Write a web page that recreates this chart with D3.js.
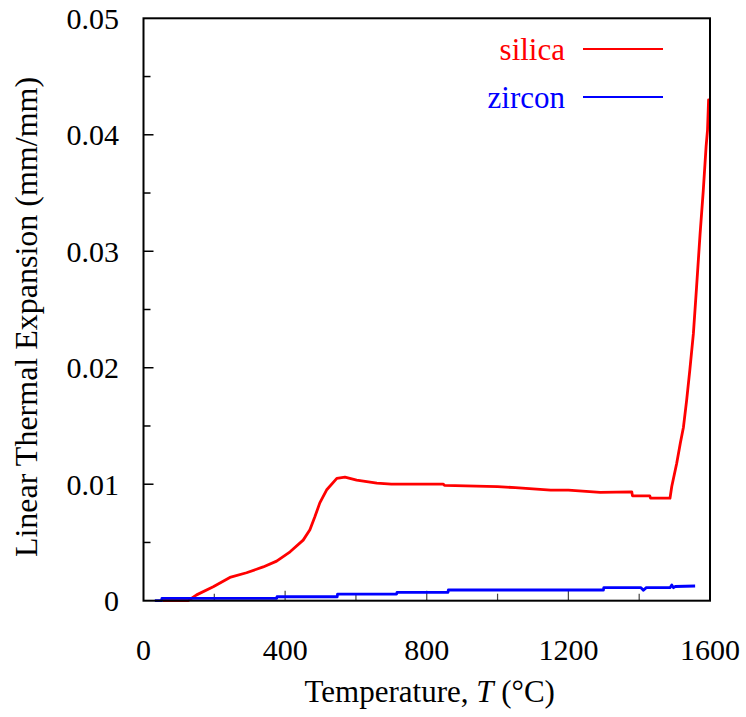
<!DOCTYPE html>
<html><head><meta charset="utf-8">
<script src="https://cdn.jsdelivr.net/npm/d3@7"></script>
<style>
html,body{margin:0;padding:0;background:#fff;}
text{font-family:"Liberation Serif","Times New Roman",serif;}
</style></head>
<body>
<svg id="c" width="746" height="717"></svg>
<script>
// Data (temperature °C, linear thermal expansion mm/mm)
const silicaT = [55,126,150,197,244,291,338,376,414,451,470,484,498,517,546,569,602,659,700,847,850,1000,1050,1100,1150,1200,1290,1379,1381,1430,1432,1487,1492,1506,1516,1525,1534,1543,1553,1562,1572,1581,1589,1593,1596,1598];
const silicaV = [0,0,0.0005,0.0012,0.002,0.0024,0.0029,0.0034,0.0042,0.0052,0.0061,0.0072,0.0084,0.0095,0.0105,0.0106,0.01036,0.0101,0.0100,0.0100,0.0099,0.0098,0.0097,0.0096,0.0095,0.0095,0.0093,0.00935,0.0090,0.0090,0.0088,0.0088,0.0098,0.0118,0.0135,0.0149,0.0172,0.0198,0.0229,0.0269,0.0315,0.0352,0.039,0.0404,0.043,0.043];
const zirconT = [32,51,52,376,377,547,548,715,716,860,861,1299,1300,1405,1412,1420,1487,1492,1497,1502,1558];
const zirconV = [0,0,0.0002,0.0002,0.00034,0.00034,0.00057,0.00057,0.00072,0.00072,0.00092,0.00092,0.00112,0.00112,0.0009,0.00112,0.00112,0.00135,0.00112,0.00122,0.00126];
const xTicks = [0,400,800,1200,1600];
const yTicks = [0,0.01,0.02,0.03,0.04,0.05];
const xMinor = [200,600,1000,1400];
const yMinor = [0.005,0.015,0.025,0.035,0.045];
const seriesNames = ["silica","zircon"];
const seriesColors = ["#ff0000","#0000ff"];

const svg = d3.select("#c");
const L=143.5, R=710, T=18.3, B=600.7;
const x = d3.scaleLinear().domain([0,1600]).range([L,R]);
const y = d3.scaleLinear().domain([0,0.05]).range([B,T]);

// ticks (inward)
const g = svg.append("g");
g.selectAll(".xt").data(xTicks.slice(1,-1)).enter().append("line")
 .attr("x1",d=>x(d)).attr("x2",d=>x(d)).attr("y1",B).attr("y2",B-10)
 .attr("stroke","#444").attr("stroke-width",1.2);
g.selectAll(".xm").data(xMinor).enter().append("line")
 .attr("x1",d=>x(d)).attr("x2",d=>x(d)).attr("y1",B).attr("y2",B-7)
 .attr("stroke","#444").attr("stroke-width",1.2);
g.selectAll(".yt").data(yTicks.slice(1,-1)).enter().append("line")
 .attr("x1",L).attr("x2",L+10).attr("y1",d=>y(d)).attr("y2",d=>y(d))
 .attr("stroke","#000").attr("stroke-width",1.5);
g.selectAll(".ym").data(yMinor).enter().append("line")
 .attr("x1",L).attr("x2",L+7).attr("y1",d=>y(d)).attr("y2",d=>y(d))
 .attr("stroke","#000").attr("stroke-width",1.5);

// tick labels
svg.selectAll(".xl").data(xTicks).enter().append("text")
 .attr("x",d=>x(d)).attr("y",660).attr("text-anchor","middle")
 .attr("font-size",30).text(d=>d);
svg.selectAll(".yl").data(yTicks).enter().append("text")
 .attr("x",119).attr("y",d=>y(d)+10.5).attr("text-anchor","end")
 .attr("font-size",30).text(d=>d===0?"0":d.toFixed(2));

// lines
const line = d3.line().x(d=>x(d[0])).y(d=>y(d[1]));
const sil = silicaT.map((t,i)=>[t,silicaV[i]]);
const zir = zirconT.map((t,i)=>[t,zirconV[i]]);
svg.append("path").attr("d",line(sil)).attr("fill","none")
 .attr("stroke",seriesColors[0]).attr("stroke-width",2.8).attr("stroke-linejoin","round");
svg.append("path").attr("d",line(zir)).attr("fill","none")
 .attr("stroke",seriesColors[1]).attr("stroke-width",2.8).attr("stroke-linejoin","round");

// frame
svg.append("rect").attr("x",L).attr("y",T).attr("width",R-L).attr("height",B-T)
 .attr("fill","none").attr("stroke","#000").attr("stroke-width",2);

// legend
const legY=[49,97];
seriesNames.forEach((n,i)=>{
  svg.append("text").attr("x",565).attr("y",legY[i]+10.5).attr("text-anchor","end")
   .attr("font-size",31).attr("fill",seriesColors[i]).text(n);
  svg.append("line").attr("x1",583).attr("x2",663).attr("y1",legY[i]).attr("y2",legY[i])
   .attr("stroke",seriesColors[i]).attr("stroke-width",2);
});

// axis titles
const xt = svg.append("text").attr("x",(L+R)/2+3).attr("y",702).attr("text-anchor","middle").attr("font-size",31);
xt.append("tspan").text("Temperature, ");
xt.append("tspan").attr("font-style","italic").text("T");
xt.append("tspan").text(" (°C)");
svg.append("text").attr("transform","translate(37,317) rotate(-90)").attr("text-anchor","middle")
 .attr("font-size",32).text("Linear Thermal Expansion (mm/mm)");
</script>
</body></html>
